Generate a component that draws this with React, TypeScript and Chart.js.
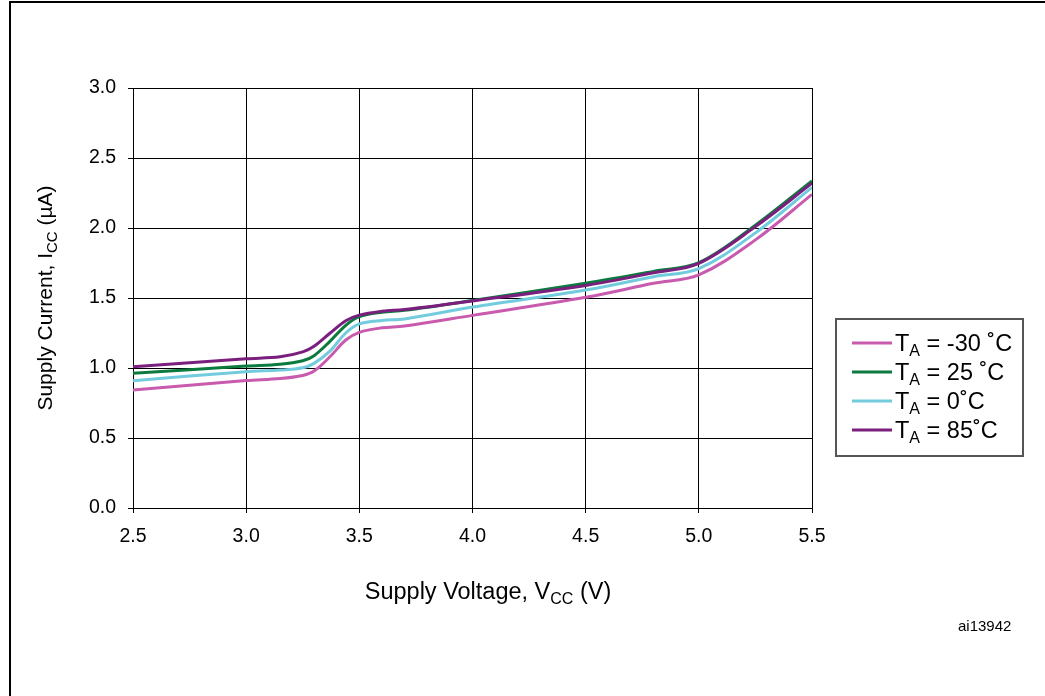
import React, { useEffect, useRef } from "react";
import { Chart, registerables } from "chart.js";

Chart.register(...registerables);

// ---- Data ----
const voltage = [2.5, 3.0, 3.15, 3.25, 3.3, 3.37, 3.44, 3.5, 3.6, 3.7, 4.0, 4.5, 4.8, 5.0, 5.25, 5.5];
const currentMinus30 = [0.843, 0.91, 0.925, 0.947, 0.978, 1.08, 1.2, 1.255, 1.287, 1.3, 1.376, 1.505, 1.605, 1.665, 1.915, 2.24];
const current25 = [0.962, 1.014, 1.027, 1.052, 1.088, 1.19, 1.305, 1.367, 1.398, 1.412, 1.482, 1.605, 1.69, 1.752, 2.02, 2.336];
const current0 = [0.909, 0.974, 0.985, 1.002, 1.033, 1.12, 1.25, 1.315, 1.34, 1.35, 1.435, 1.557, 1.652, 1.71, 1.965, 2.29];
const current85 = [1.009, 1.066, 1.08, 1.115, 1.155, 1.248, 1.338, 1.378, 1.405, 1.418, 1.479, 1.59, 1.68, 1.748, 2.01, 2.32];

const seriesLabels = ["-30 ˚C", "25 ˚C", "0˚C", "85˚C"];
const seriesColors = ["#C95BAE", "#0B7A3E", "#72CCDD", "#7A1F7E"];
const xTitleParts = [{ t: "Supply Voltage, V" }, { t: "CC", sub: true }, { t: " (V)" }];
const yTitleParts = [{ t: "Supply Current, I" }, { t: "CC", sub: true }, { t: " (µA)" }];
const figureId = "ai13942";

const FONT = "'Liberation Sans', Arial, Helvetica, sans-serif";

type Part = { t: string; sub?: boolean };

function drawRich(
  ctx: CanvasRenderingContext2D,
  parts: Part[],
  x: number,
  y: number,
  size: number,
  subSize: number,
  subDrop: number,
  align: "left" | "center"
) {
  const widths = parts.map((p) => {
    ctx.font = `${p.sub ? subSize : size}px ${FONT}`;
    return ctx.measureText(p.t).width;
  });
  const total = widths.reduce((a, b) => a + b, 0);
  let cx = align === "center" ? x - total / 2 : x;
  ctx.textAlign = "left";
  ctx.textBaseline = "alphabetic";
  parts.forEach((p, i) => {
    ctx.font = `${p.sub ? subSize : size}px ${FONT}`;
    ctx.fillText(p.t, cx, p.sub ? y + subDrop : y);
    cx += widths[i];
  });
}

const decorPlugin = {
  id: "decor",
  beforeDraw(chart: any) {
    const ctx = chart.ctx as CanvasRenderingContext2D;
    ctx.save();
    ctx.fillStyle = "#ffffff";
    ctx.fillRect(0, 0, chart.width, chart.height);
    ctx.restore();
  },
  afterDraw(chart: any) {
    const ctx = chart.ctx as CanvasRenderingContext2D;
    ctx.save();
    ctx.fillStyle = "#000000";
    // outer frame (top & left visible)
    ctx.fillRect(9, 1, chart.width - 9, 2);
    ctx.fillRect(9, 1, 2, chart.height - 1);

    // x title
    drawRich(ctx, xTitleParts, 488, 599, 23.5, 16, 5, "center");

    // y title (rotated)
    ctx.save();
    ctx.translate(52, 298);
    ctx.rotate(-Math.PI / 2);
    drawRich(ctx, yTitleParts, 0, 0, 21, 15, 5, "center");
    ctx.restore();

    // figure id
    ctx.font = `15px ${FONT}`;
    ctx.textAlign = "left";
    ctx.textBaseline = "alphabetic";
    ctx.fillText(figureId, 958, 631);

    // legend box
    ctx.strokeStyle = "#555555";
    ctx.lineWidth = 2;
    ctx.strokeRect(836, 319, 187, 137);
    const rowY = [343, 372, 401, 430];
    seriesLabels.forEach((lab, i) => {
      ctx.strokeStyle = seriesColors[i];
      ctx.lineWidth = 3;
      ctx.beginPath();
      ctx.moveTo(852, rowY[i]);
      ctx.lineTo(892, rowY[i]);
      ctx.stroke();
      ctx.fillStyle = "#000000";
      drawRich(
        ctx,
        [{ t: "T" }, { t: "A", sub: true }, { t: " = " + lab }],
        895,
        rowY[i] + 8,
        23.5,
        16,
        5,
        "left"
      );
    });
    ctx.restore();
  },
};

export default function App() {
  const ref = useRef<HTMLCanvasElement | null>(null);
  useEffect(() => {
    if (!ref.current) return;
    const mk = (vals: number[]) => voltage.map((v, i) => ({ x: v, y: vals[i] }));
    const ds = (label: string, vals: number[], color: string) => ({
      label,
      data: mk(vals),
      borderColor: color,
      backgroundColor: color,
      borderWidth: 3,
      pointRadius: 0,
      tension: 0.35,
      fill: false,
    });
    const chart = new Chart(ref.current, {
      type: "line",
      data: {
        datasets: [
          ds("TA = 85˚C", current85, seriesColors[3]),
          ds("TA = 0˚C", current0, seriesColors[2]),
          ds("TA = 25 ˚C", current25, seriesColors[1]),
          ds("TA = -30 ˚C", currentMinus30, seriesColors[0]),
        ],
      },
      options: {
        animation: false,
        responsive: true,
        maintainAspectRatio: false,
        layout: { padding: { left: 0, top: 88, right: 233, bottom: 0 } },
        plugins: { legend: { display: false }, tooltip: { enabled: false } },
        scales: {
          x: {
            type: "linear",
            min: 2.5,
            max: 5.5,
            afterFit: (s: any) => {
              s.height = 188;
            },
            ticks: {
              stepSize: 0.5,
              color: "#000",
              padding: 12,
              font: { size: 19.5, family: FONT },
              callback: (v: any) => Number(v).toFixed(1),
            },
            grid: { color: "#000", lineWidth: 1, tickLength: 5, drawTicks: true },
            border: { color: "#000", width: 1 },
          },
          y: {
            type: "linear",
            min: 0,
            max: 3,
            afterFit: (s: any) => {
              s.width = 133;
            },
            ticks: {
              stepSize: 0.5,
              color: "#000",
              padding: 12,
              font: { size: 19.5, family: FONT },
              callback: (v: any) => Number(v).toFixed(1),
            },
            grid: { color: "#000", lineWidth: 1, tickLength: 5, drawTicks: true },
            border: { color: "#000", width: 1 },
          },
        },
      },
      plugins: [decorPlugin],
    });
    return () => chart.destroy();
  }, []);
  return (
    <div style={{ position: "absolute", left: 0, top: 0, width: 1045, height: 696, background: "#fff" }}>
      <canvas ref={ref} />
    </div>
  );
}
